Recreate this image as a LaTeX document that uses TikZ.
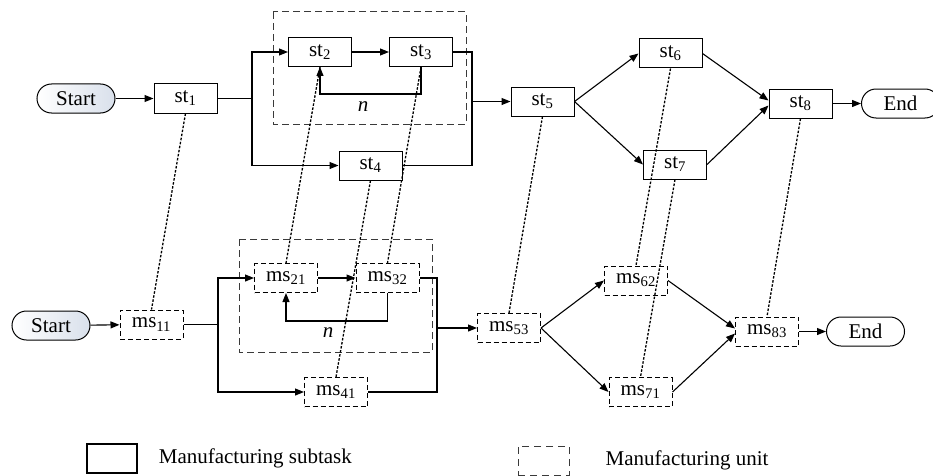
\documentclass[tikz,border=0pt]{standalone}
\usepackage{fontspec}
\setmainfont{Liberation Serif}
\usetikzlibrary{arrows.meta, positioning}
\definecolor{ink}{HTML}{000000}
\definecolor{frameGray}{HTML}{3A3A3A}
\definecolor{startBlue}{HTML}{D9E0EB}
\tikzset{
  txt/.style={font=\fontsize{21}{24}\selectfont, text=ink},
  subtask/.style={txt, draw=ink, line width=1pt, fill=white, minimum width=63pt, minimum height=29pt, inner sep=0pt},
  unitbox/.style={subtask, dash pattern=on 5pt off 3pt},
  terminal/.style={txt, draw=ink, line width=1pt, rounded corners=14.5pt, minimum width=78pt, minimum height=29pt, inner sep=0pt},
  startbox/.style={terminal, left color=white, right color=startBlue},
  endbox/.style={terminal, fill=white},
  groupbox/.style={draw=frameGray, line width=1pt, dash pattern=on 7pt off 4pt},
  flow/.style={draw=ink, line width=1.1pt, -{Triangle[length=9pt,width=7pt]}},
  plain/.style={draw=ink, line width=1.1pt},
  mapping/.style={draw=ink, line width=1.3pt, dash pattern=on 2.5pt off 1.6pt},
  legendtext/.style={txt, inner sep=0pt, anchor=west}
}
\newcommand{\sub}[1]{\textsubscript{#1}}

\begin{document}
\begin{tikzpicture}[x=1pt,y=1pt]
\useasboundingbox (0,0) rectangle (933,475);

% process of subtasks
\draw[groupbox] (273,463) rectangle (466,351);
\node[startbox] (startA) at (76,376.5) {Start};
\node[subtask] (st1) at (185.5,376.5) {st\sub{1}};
\node[subtask] (st2) at (320,423) {st\sub{2}};
\node[subtask] (st3) at (421,423) {st\sub{3}};
\node[subtask] (st4) at (370.5,309.5) {st\sub{4}};
\node[subtask] (st5) at (542.5,373.5) {st\sub{5}};
\node[subtask] (st6) at (670.5,421.5) {st\sub{6}};
\node[subtask] (st7) at (675,310.5) {st\sub{7}};
\node[subtask] (st8) at (800.5,371.5) {st\sub{8}};
\node[endbox] (endA) at (900.5,371.5) {End};
\coordinate (splitA) at (252,376.5);
\coordinate (joinA) at (472,373.5);

\draw[flow] (startA) -- (st1);
\draw[plain] (st1.east) -- (splitA);
\draw[flow] (splitA) |- (st2.west);
\draw[flow] (splitA) |- (st4.west);
\draw[flow] (st2) -- (st3);
\draw[flow] (st3.south) -- ++(0,-27) -| (st2.south);
\node[txt, font=\fontsize{21}{24}\selectfont\itshape] (loopA) at (363,368) {n};
\draw[plain] (st3.east) -| (joinA);
\draw[plain] (st4.east) -| (joinA);
\draw[flow] (joinA) -- (st5.west);
\draw[flow] (st5.east) -- (st6.west);
\draw[flow] (st5.east) -- (st7.west);
\draw[flow] (st6.east) -- ([yshift=3pt]st8.west);
\draw[flow] (st7.east) -- ([yshift=-2pt]st8.west);
\draw[flow] (st8) -- (endA);

% process of manufacturing units
\draw[groupbox] (239,236) rectangle (432,123);
\node[startbox] (startB) at (51,149.5) {Start};
\node[unitbox] (ms11) at (151.5,150.5) {ms\sub{11}};
\node[unitbox] (ms21) at (286,197) {ms\sub{21}};
\node[unitbox] (ms32) at (387.5,197) {ms\sub{32}};
\node[unitbox] (ms41) at (336,83) {ms\sub{41}};
\node[unitbox] (ms53) at (509,147) {ms\sub{53}};
\node[unitbox] (ms62) at (636,194.5) {ms\sub{62}};
\node[unitbox] (ms71) at (640.5,83) {ms\sub{71}};
\node[unitbox] (ms83) at (767,143.5) {ms\sub{83}};
\node[endbox] (endB) at (865.5,143.5) {End};
\coordinate (splitB) at (218,150.5);
\coordinate (joinB) at (437,147);

\draw[flow] (startB) -- (ms11);
\draw[plain] (ms11.east) -- (splitB);
\draw[flow] (splitB) |- (ms21.west);
\draw[flow] (splitB) |- (ms41.west);
\draw[flow] (ms21) -- (ms32);
\draw[flow] (ms32.south) -- ++(0,-28) -| (ms21.south);
\node[txt, font=\fontsize{21}{24}\selectfont\itshape] (loopB) at (328,142) {n};
\draw[plain] (ms32.east) -| (joinB);
\draw[plain] (ms41.east) -| (joinB);
\draw[flow] (joinB) -- (ms53.west);
\draw[flow] (ms53.east) -- (ms62.west);
\draw[flow] (ms53.east) -- (ms71.west);
\draw[flow] (ms62.east) -- ([yshift=3pt]ms83.west);
\draw[flow] (ms71.east) -- ([yshift=-2pt]ms83.west);
\draw[flow] (ms83) -- (endB);

% mapping subtask -> unit
\draw[mapping] (st1.south) -- (ms11.north);
\draw[mapping] (st2.south) -- (ms21.north);
\draw[mapping] (st3.south) -- (ms32.north);
\draw[mapping] (st4.south) -- (ms41.north);
\draw[mapping] (st5.south) -- (ms53.north);
\draw[mapping] (st6.south) -- (ms62.north);
\draw[mapping] (st7.south) -- (ms71.north);
\draw[mapping] (st8.south) -- (ms83.north);

% legend
\node[subtask, minimum width=50pt, line width=1.3pt] (legTask) at (112,16.5) {};
\node[legendtext, right=21pt of legTask] (legTaskText) {Manufacturing subtask};
\node[unitbox, minimum width=51pt, draw=frameGray, dash pattern=on 7pt off 5pt] (legUnit) at (543.5,14.5) {};
\node[legendtext, right=36pt of legUnit] (legUnitText) {Manufacturing unit};

\end{tikzpicture}
\end{document}
